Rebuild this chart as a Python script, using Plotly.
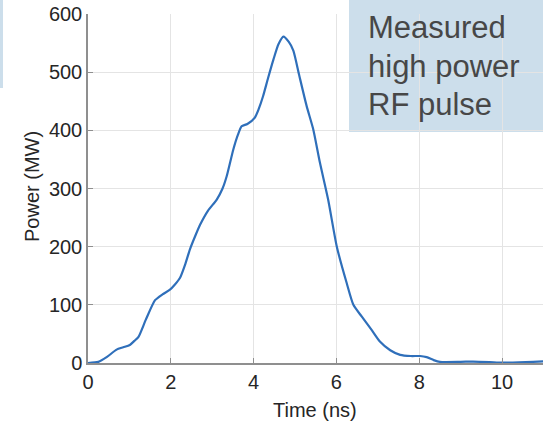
import plotly.graph_objects as go

time_ns = [0, 0.25, 0.45, 0.69, 0.85, 1.01, 1.12, 1.22, 1.4, 1.62, 1.8, 1.98, 2.1, 2.22, 2.35,
           2.46, 2.6, 2.71, 2.9, 3.11, 3.25, 3.35, 3.51, 3.62, 3.71, 3.85, 4.03, 4.12, 4.23, 4.35,
           4.48, 4.6, 4.72, 4.85, 4.96, 5.1, 5.28, 5.44, 5.6, 5.8, 6.01, 6.25, 6.41, 6.61, 6.85,
           7.05, 7.3, 7.54, 7.8, 8.02, 8.18, 8.35, 8.5, 9.0, 9.3, 9.7, 10.0, 10.4, 10.75, 11.0]
power_mw = [0, 2, 10, 23, 27, 31, 38, 45, 75, 108, 118, 126, 135, 146, 170,
            195, 220, 238, 262, 281, 300, 321, 367, 392, 407, 411, 422, 436, 459, 490,
            522, 548, 561, 552, 537, 495, 442, 402, 345, 281, 200, 137, 100, 80, 57,
            37, 22, 14, 12, 12, 10, 5, 2, 2, 2.5, 1.5, 0.5, 1, 2, 3]

x_ticks = [0, 2, 4, 6, 8, 10]
y_ticks = [0, 100, 200, 300, 400, 500, 600]
box_lines = ["Measured", "high power", "RF pulse"]

FONT = "Liberation Sans, Arial, sans-serif"
AXC = "#8f8f8f"

fig = go.Figure()
fig.add_trace(go.Scatter(x=time_ns, y=power_mw, mode="lines",
                         line=dict(color="#2f6fba", width=2.2, shape="spline", smoothing=0.6),
                         showlegend=False, hoverinfo="skip"))

fig.update_layout(
    width=543, height=421,
    margin=dict(l=88, r=0, t=14, b=58),
    paper_bgcolor="white", plot_bgcolor="rgba(0,0,0,0)",
    font=dict(family=FONT, size=20, color="#262626"),
    showlegend=False,
)
fig.update_xaxes(range=[0, 10.99], tickvals=x_ticks, showgrid=True, gridcolor="#e4e4e4",
                 gridwidth=1, zeroline=False, showline=True, linecolor=AXC, linewidth=1.5,
                 ticks="inside", ticklen=5, tickcolor=AXC, tickwidth=1,
                 tickfont=dict(size=20, color="#262626"))
fig.update_yaxes(range=[0, 600], tickvals=y_ticks, showgrid=True, gridcolor="#e4e4e4",
                 gridwidth=1, zeroline=False, showline=True, linecolor=AXC, linewidth=1.5,
                 ticks="inside", ticklen=5, tickcolor=AXC, tickwidth=1,
                 tickfont=dict(size=20, color="#262626"))

W, H, L, T = 455.0, 349.0, 88.0, 14.0

def px(xp):
    return (xp - L) / W

def py(yp):
    return (T + H - yp) / H

# info box
fig.add_shape(type="rect", xref="paper", yref="paper", layer="below",
              x0=px(349), x1=px(545), y0=py(132), y1=py(-2),
              fillcolor="rgb(204,222,235)", line=dict(width=0))
# small strip at left edge
fig.add_shape(type="rect", xref="paper", yref="paper", layer="below",
              x0=px(-2), x1=px(3), y0=py(88), y1=py(-2),
              fillcolor="rgb(204,222,235)", line=dict(width=0))

for line_text, yc in zip(box_lines, [27, 66, 104]):
    fig.add_annotation(xref="paper", yref="paper", x=px(366), y=py(yc),
                       xanchor="left", yanchor="middle", align="left", showarrow=False,
                       text=line_text,
                       font=dict(family=FONT, size=31, color="#474747"))

fig.add_annotation(xref="paper", yref="paper", x=px(315), y=py(410),
                   xanchor="center", yanchor="middle", showarrow=False,
                   text="Time (ns)", font=dict(family=FONT, size=20, color="#262626"))
fig.add_annotation(xref="paper", yref="paper", x=px(32), y=py(187),
                   xanchor="center", yanchor="middle", showarrow=False, textangle=-90,
                   text="Power (MW)", font=dict(family=FONT, size=20, color="#262626"))

fig.write_html("out.html", config={"displayModeBar": False},
               post_script="document.body.style.margin='0';")
